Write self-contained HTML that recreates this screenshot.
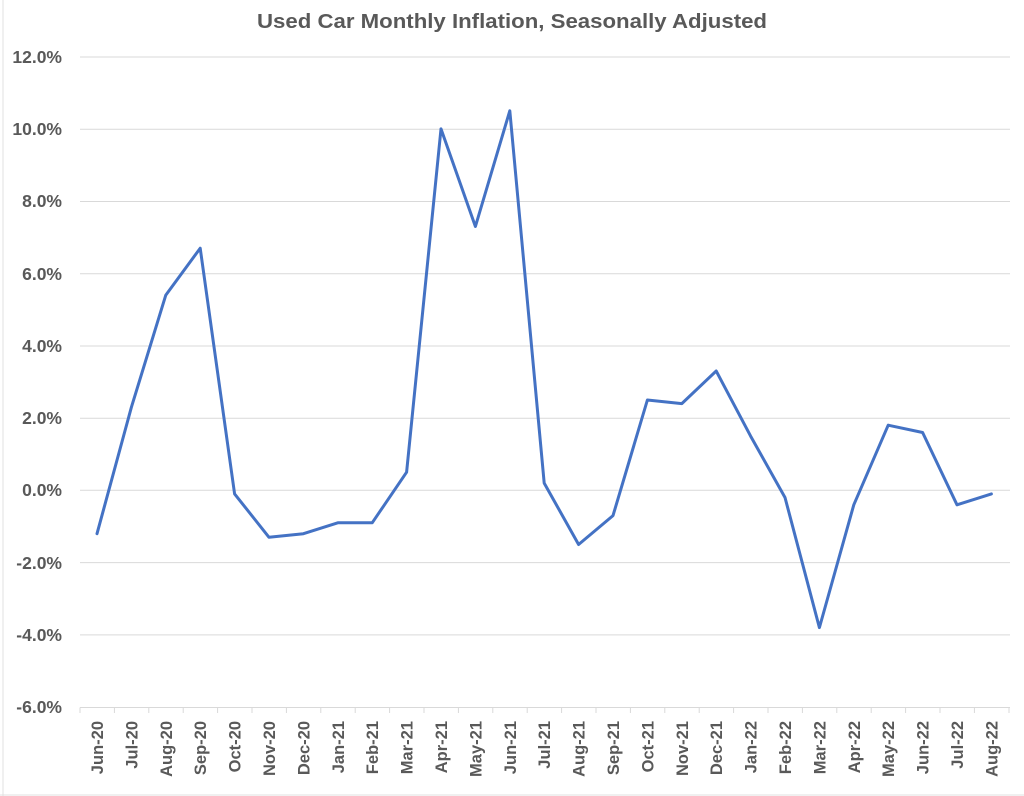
<!DOCTYPE html>
<html><head><meta charset="utf-8"><style>
html,body{margin:0;padding:0;background:#fff;}
svg{display:block;}
text{font-family:"Liberation Sans",Arial,sans-serif;font-weight:bold;fill:#595959;}
</style></head><body>
<svg width="1024" height="796" viewBox="0 0 1024 796" xmlns="http://www.w3.org/2000/svg">
<rect x="0" y="0" width="1024" height="796" fill="#fff"/>
<line x1="3" y1="0" x2="3" y2="796" stroke="#e0e0e0" stroke-width="1"/>
<line x1="0" y1="795" x2="1024" y2="795" stroke="#e0e0e0" stroke-width="1"/>
<text x="512" y="28" font-size="20" text-anchor="middle" textLength="510" lengthAdjust="spacingAndGlyphs">Used Car Monthly Inflation, Seasonally Adjusted</text>
<g stroke="#d9d9d9" stroke-width="1">
<line x1="80" y1="57" x2="1010" y2="57"/>
<line x1="80" y1="129.2" x2="1010" y2="129.2"/>
<line x1="80" y1="201.5" x2="1010" y2="201.5"/>
<line x1="80" y1="273.8" x2="1010" y2="273.8"/>
<line x1="80" y1="346" x2="1010" y2="346"/>
<line x1="80" y1="418.3" x2="1010" y2="418.3"/>
<line x1="80" y1="490.3" x2="1010" y2="490.3"/>
<line x1="80" y1="562.6" x2="1010" y2="562.6"/>
<line x1="80" y1="634.9" x2="1010" y2="634.9"/>
<line x1="80" y1="707.5" x2="1010" y2="707.5"/>
</g>
<g stroke="#d9d9d9" stroke-width="1">
<line x1="80" y1="707.5" x2="80" y2="713"/><line x1="114.4" y1="707.5" x2="114.4" y2="713"/><line x1="148.8" y1="707.5" x2="148.8" y2="713"/><line x1="183.2" y1="707.5" x2="183.2" y2="713"/><line x1="217.6" y1="707.5" x2="217.6" y2="713"/><line x1="252" y1="707.5" x2="252" y2="713"/><line x1="286.4" y1="707.5" x2="286.4" y2="713"/><line x1="320.8" y1="707.5" x2="320.8" y2="713"/><line x1="355.2" y1="707.5" x2="355.2" y2="713"/><line x1="389.6" y1="707.5" x2="389.6" y2="713"/><line x1="424" y1="707.5" x2="424" y2="713"/><line x1="458.4" y1="707.5" x2="458.4" y2="713"/><line x1="492.8" y1="707.5" x2="492.8" y2="713"/><line x1="527.2" y1="707.5" x2="527.2" y2="713"/><line x1="561.6" y1="707.5" x2="561.6" y2="713"/><line x1="596" y1="707.5" x2="596" y2="713"/><line x1="630.4" y1="707.5" x2="630.4" y2="713"/><line x1="664.8" y1="707.5" x2="664.8" y2="713"/><line x1="699.2" y1="707.5" x2="699.2" y2="713"/><line x1="733.6" y1="707.5" x2="733.6" y2="713"/><line x1="768" y1="707.5" x2="768" y2="713"/><line x1="802.4" y1="707.5" x2="802.4" y2="713"/><line x1="836.8" y1="707.5" x2="836.8" y2="713"/><line x1="871.2" y1="707.5" x2="871.2" y2="713"/><line x1="905.6" y1="707.5" x2="905.6" y2="713"/><line x1="940" y1="707.5" x2="940" y2="713"/><line x1="974.4" y1="707.5" x2="974.4" y2="713"/><line x1="1009" y1="707.5" x2="1009" y2="713"/>
</g>
<g font-size="17.5" text-anchor="end">
<text x="62" y="63">12.0%</text>
<text x="62" y="135">10.0%</text>
<text x="62" y="207">8.0%</text>
<text x="62" y="280">6.0%</text>
<text x="62" y="352">4.0%</text>
<text x="62" y="424">2.0%</text>
<text x="62" y="496">0.0%</text>
<text x="62" y="569">-2.0%</text>
<text x="62" y="641">-4.0%</text>
<text x="62" y="713">-6.0%</text>
</g>
<g font-size="16.5" text-anchor="end">
<text transform="translate(103,721) rotate(-90)">Jun-20</text>
<text transform="translate(137.4,721) rotate(-90)">Jul-20</text>
<text transform="translate(171.8,721) rotate(-90)">Aug-20</text>
<text transform="translate(206.2,721) rotate(-90)">Sep-20</text>
<text transform="translate(240.6,721) rotate(-90)">Oct-20</text>
<text transform="translate(275,721) rotate(-90)">Nov-20</text>
<text transform="translate(309.4,721) rotate(-90)">Dec-20</text>
<text transform="translate(343.8,721) rotate(-90)">Jan-21</text>
<text transform="translate(378.2,721) rotate(-90)">Feb-21</text>
<text transform="translate(412.6,721) rotate(-90)">Mar-21</text>
<text transform="translate(447,721) rotate(-90)">Apr-21</text>
<text transform="translate(481.4,721) rotate(-90)">May-21</text>
<text transform="translate(515.8,721) rotate(-90)">Jun-21</text>
<text transform="translate(550.2,721) rotate(-90)">Jul-21</text>
<text transform="translate(584.6,721) rotate(-90)">Aug-21</text>
<text transform="translate(619,721) rotate(-90)">Sep-21</text>
<text transform="translate(653.4,721) rotate(-90)">Oct-21</text>
<text transform="translate(687.8,721) rotate(-90)">Nov-21</text>
<text transform="translate(722.2,721) rotate(-90)">Dec-21</text>
<text transform="translate(756.6,721) rotate(-90)">Jan-22</text>
<text transform="translate(791,721) rotate(-90)">Feb-22</text>
<text transform="translate(825.4,721) rotate(-90)">Mar-22</text>
<text transform="translate(859.8,721) rotate(-90)">Apr-22</text>
<text transform="translate(894.2,721) rotate(-90)">May-22</text>
<text transform="translate(928.6,721) rotate(-90)">Jun-22</text>
<text transform="translate(963,721) rotate(-90)">Jul-22</text>
<text transform="translate(997.4,721) rotate(-90)">Aug-22</text>
</g>
<polyline fill="none" stroke="#4472C4" stroke-width="3" stroke-linejoin="round" stroke-linecap="round"
points="97,533.7 131.4,407.2 165.8,295.1 200.2,248.2 234.6,493.9 269,537.3 303.4,533.7 337.8,522.8 372.2,522.8 406.6,472.2 441,128.9 475.4,226.5 509.8,110.8 544.2,483.1 578.6,544.5 613,515.6 647.4,400 681.8,403.6 716.2,371 750.6,436.1 785,497.5 819.4,627.6 853.8,504.8 888.2,425.2 922.6,432.5 957,504.8 991.4,493.9"/>
</svg>
</body></html>
